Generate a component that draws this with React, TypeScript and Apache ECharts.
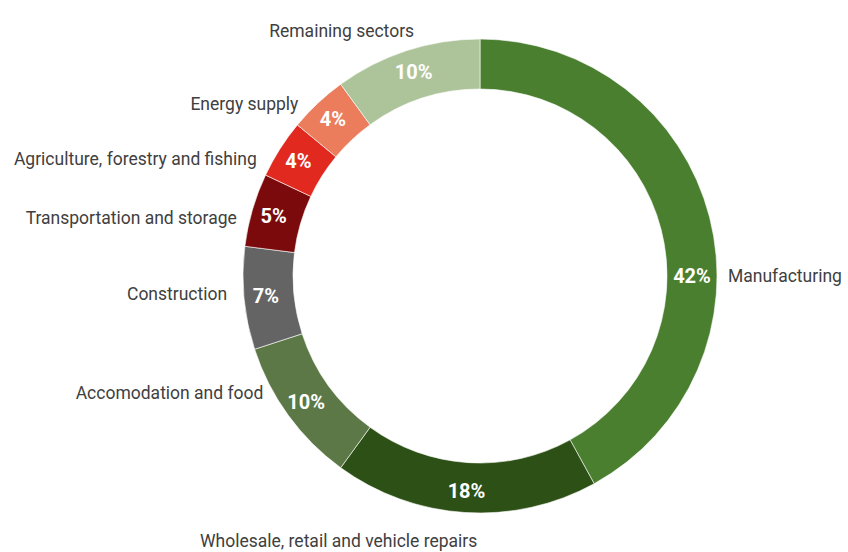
import React, { useEffect, useRef } from 'react';
import * as echarts from 'echarts';

const sectors = [
  'Manufacturing',
  'Wholesale, retail and vehicle repairs',
  'Accomodation and food',
  'Construction',
  'Transportation and storage',
  'Agriculture, forestry and fishing',
  'Energy supply',
  'Remaining sectors',
];
const shares = [42, 18, 10, 7, 5, 4, 4, 10];
const colors = ['#4a7f2f', '#2d5016', '#5c7846', '#646464', '#7a0a0c', '#e1291f', '#eb7d5d', '#adc49b'];

// label placement tweaks: angle (degrees, relative to the slice's mid-angle) and extra radial gap (px)
const nameLabelShift = [14.4, -3.0, 9.5, 3.4, -4.9, -6.6, -4.9, 2.4];
const nameLabelGap = [0, 8, -6, 5, 0, 0, -4, -3];
const valueLabelShift = [14.4, 0, 0, 0, 0, 0, 0, 0];

const CX = 480;
const CY = 276;
const R0 = 187;
const R1 = 237;
const NAME_R = 248;
const FONT = 'Roboto';

const total = shares.reduce((a, b) => a + b, 0);
const midAngles: number[] = [];
{
  let acc = 0;
  shares.forEach((v) => {
    midAngles.push(((acc + v / 2) / total) * 360);
    acc += v;
  });
}

export default function App() {
  const ref = useRef<HTMLDivElement>(null);
  useEffect(() => {
    document.body.style.margin = '0';
    const chart = echarts.init(ref.current!, null, { renderer: 'svg' });
    const data = sectors.map((name, i) => ({ name, value: shares[i] }));
    chart.setOption({
      animation: false,
      backgroundColor: '#ffffff',
      series: [
        {
          type: 'pie',
          center: [CX, CY],
          radius: [R0, R1],
          startAngle: 90,
          clockwise: true,
          silent: true,
          data: data.map((d, i) => ({ ...d, itemStyle: { color: colors[i] } })),
          itemStyle: { borderColor: '#ffffff', borderWidth: 0.6 },
          label: {
            show: true,
            position: 'inside',
            formatter: '{c}%',
            color: '#ffffff',
            fontFamily: FONT,
            fontWeight: 'bold',
            fontSize: 20,
          },
          labelLine: { show: false },
          labelLayout: (p: any) => {
            const s = valueLabelShift[p.dataIndex];
            if (!s) return {};
            const a = ((midAngles[p.dataIndex] + s) * Math.PI) / 180;
            const r = (R0 + R1) / 2;
            return { x: CX + r * Math.sin(a), y: CY - r * Math.cos(a), align: 'center', verticalAlign: 'middle' };
          },
        },
        {
          type: 'pie',
          center: [CX, CY],
          radius: [R0, R1],
          startAngle: 90,
          clockwise: true,
          silent: true,
          z: 3,
          data: data.map((d) => ({ ...d, itemStyle: { color: 'transparent' } })),
          label: {
            show: true,
            position: 'outside',
            formatter: '{b}',
            color: '#404040',
            fontFamily: FONT,
            fontSize: 17.5,
            overflow: 'none',
          },
          labelLine: { show: false },
          labelLayout: (p: any) => {
            const i = p.dataIndex;
            const a = ((midAngles[i] + nameLabelShift[i]) * Math.PI) / 180;
            const r = NAME_R + nameLabelGap[i];
            const sn = Math.sin(a);
            const cs = Math.cos(a);
            return {
              x: CX + r * sn,
              y: CY - r * cs,
              align: sn < -0.01 ? 'right' : sn > 0.01 ? 'left' : 'center',
              verticalAlign: cs > 0.02 ? 'bottom' : cs < -0.02 ? 'top' : 'middle',
            };
          },
        },
      ],
    });
    return () => chart.dispose();
  }, []);
  return <div ref={ref} style={{ position: 'absolute', left: 0, top: 0, width: 848, height: 552 }} />;
}
